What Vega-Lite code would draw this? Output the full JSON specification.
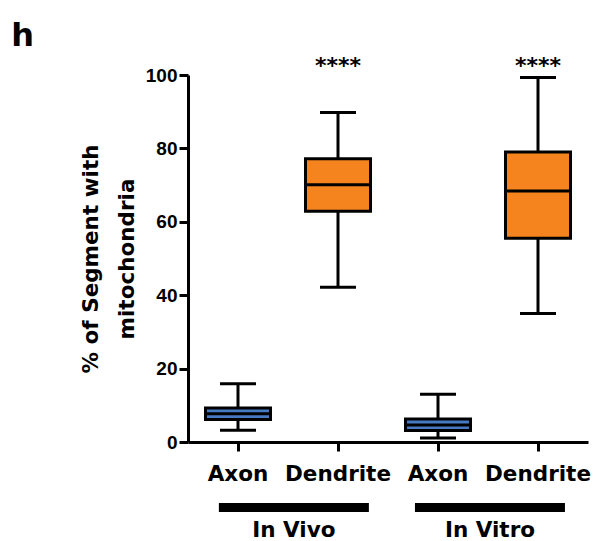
{
  "$schema": "https://vega.github.io/schema/vega-lite/v6.json",
  "padding": {"left": 11, "top": 20, "right": 5, "bottom": 0},
  "background": "white",
  "title": {"text": "h", "anchor": "start", "frame": "bounds", "font": "DejaVu Sans", "fontSize": 32, "fontWeight": "bold", "color": "black", "dx": -69, "offset": 2},
  "config": {
    "view": {"stroke": null},
    "font": "DejaVu Sans",
    "axis": {"grid": false, "domainColor": "black", "tickColor": "black", "labelColor": "black", "titleColor": "black", "domainWidth": 3, "tickWidth": 3}
  },
  "datasets": {
    "stats": [
      {"id": "Axon|In Vivo", "type": "Axon", "min": 3.2, "q1": 6.1, "median": 7.7, "q3": 9.25, "max": 15.9, "sig": ""},
      {"id": "Dendrite|In Vivo", "type": "Dendrite", "min": 42.2, "q1": 62.9, "median": 70.1, "q3": 77.2, "max": 89.8, "sig": "****"},
      {"id": "Axon|In Vitro", "type": "Axon", "min": 1.1, "q1": 3.1, "median": 4.6, "q3": 6.3, "max": 13.0, "sig": ""},
      {"id": "Dendrite|In Vitro", "type": "Dendrite", "min": 35.0, "q1": 55.5, "median": 68.4, "q3": 79.0, "max": 99.3, "sig": "****"}
    ],
    "groups": [{"group": "In Vivo"}, {"group": "In Vitro"}]
  },
  "spacing": 18,
  "vconcat": [
    {
      "width": 400,
      "height": 367,
      "data": {"name": "stats"},
      "encoding": {
        "x": {
          "field": "id", "type": "nominal",
          "scale": {"domain": ["Axon|In Vivo", "Dendrite|In Vivo", "Axon|In Vitro", "Dendrite|In Vitro"], "paddingInner": 0, "paddingOuter": 0},
          "axis": {"title": null, "labelExpr": "split(datum.value, '|')[0]", "labelAngle": 0, "labelFont": "DejaVu Sans", "labelFontSize": 21.5, "labelFontWeight": "bold", "tickSize": 9, "labelPadding": 12}
        }
      },
      "layer": [
        {
          "mark": {"type": "rule", "color": "black", "strokeWidth": 3},
          "encoding": {
            "y": {"field": "min", "type": "quantitative", "scale": {"domain": [0, 100], "nice": false},
              "axis": {"title": ["% of Segment with", "mitochondria"], "values": [0, 20, 40, 60, 80, 100], "titleFont": "DejaVu Sans", "titleFontSize": 21.5, "titleFontWeight": "bold", "titleLineHeight": 36, "titlePadding": 7, "labelFont": "Liberation Sans", "labelFontSize": 19, "labelFontWeight": "bold", "tickSize": 9, "labelPadding": 2}},
            "y2": {"field": "max"}
          }
        },
        {
          "mark": {"type": "tick", "color": "black", "size": 36, "thickness": 3, "opacity": 1},
          "encoding": {"y": {"field": "min", "type": "quantitative"}}
        },
        {
          "mark": {"type": "tick", "color": "black", "size": 36, "thickness": 3, "opacity": 1},
          "encoding": {"y": {"field": "max", "type": "quantitative"}}
        },
        {
          "mark": {"type": "bar", "size": 65, "stroke": "black", "strokeWidth": 3, "opacity": 1},
          "encoding": {
            "y": {"field": "q1", "type": "quantitative"},
            "y2": {"field": "q3"},
            "fill": {"field": "type", "type": "nominal", "scale": {"domain": ["Axon", "Dendrite"], "range": ["#4679C2", "#F5841F"]}, "legend": null}
          }
        },
        {
          "mark": {"type": "tick", "color": "black", "size": 65, "thickness": 3, "opacity": 1},
          "encoding": {"y": {"field": "median", "type": "quantitative"}}
        },
        {
          "mark": {"type": "text", "font": "DejaVu Sans", "fontSize": 22, "fontWeight": "bold", "color": "black", "baseline": "alphabetic", "dy": -2},
          "encoding": {"y": {"datum": 100}, "text": {"field": "sig"}}
        }
      ]
    },
    {
      "width": 400,
      "height": 9,
      "data": {"name": "groups"},
      "mark": {"type": "bar", "width": {"band": 0.765}, "color": "black"},
      "encoding": {
        "x": {
          "field": "group", "type": "nominal",
          "scale": {"domain": ["In Vivo", "In Vitro"], "paddingInner": 0, "paddingOuter": 0.02, "align": 1},
          "axis": {"title": null, "domain": false, "ticks": false, "tickSize": 0, "labelAngle": 0, "labelFont": "DejaVu Sans", "labelFontSize": 21.5, "labelFontWeight": "bold", "labelPadding": 7}
        }
      }
    }
  ]
}
